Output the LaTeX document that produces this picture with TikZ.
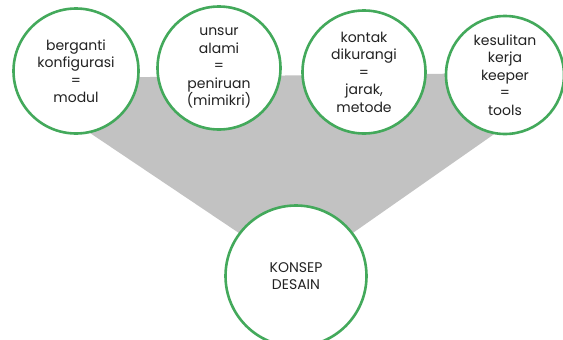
\documentclass[tikz,border=0pt]{standalone}
\usepackage{fontspec}
\setmainfont{Poppins}
\usetikzlibrary{positioning}
\definecolor{leaf}{HTML}{43A95B}
\definecolor{funnelgrey}{HTML}{C2C2C2}
\definecolor{ink}{HTML}{222222}

\begin{document}
\begin{tikzpicture}[x=1pt, y=-1pt,
    idea/.style={circle, draw=leaf, line width=2.6pt, fill=white, inner sep=0pt,
      align=center, text=ink, font=\fontsize{14}{17.5}\selectfont}]
  \useasboundingbox (0,0) rectangle (563,340);
  \clip (0,0) rectangle (563,340);
  % grey funnel behind the circles
  \fill[funnelgrey] (26,90) -- (60,78) -- (510,73) -- (520,116) -- (297,272) -- cycle;
  \node[idea, minimum size=125pt] (modul) at (76,71)
    {berganti\\konfigurasi\\=\\modul};
  \node[idea, minimum size=123pt] (mimikri) at (219,68)
    {unsur\\alami\\=\\peniruan\\(mimikri)};
  \node[idea, minimum size=123pt] (jarak) at (364,72)
    {kontak\\dikurangi\\=\\jarak,\\metode};
  \node[idea, minimum size=118pt] (tools) at (505,75)
    {kesulitan\\kerja\\keeper\\=\\tools};
  \node[idea, minimum size=141pt] (konsep) at (296,276) {KONSEP\\DESAIN};
\end{tikzpicture}
\end{document}
